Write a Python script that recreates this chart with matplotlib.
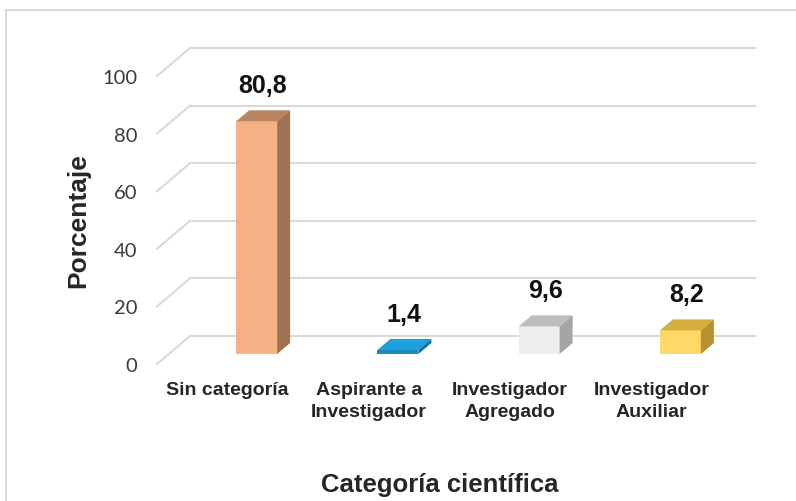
import numpy as np
import matplotlib
matplotlib.use("Agg")
import matplotlib.pyplot as plt
from matplotlib.patches import Polygon, Rectangle
from matplotlib.lines import Line2D
from matplotlib.transforms import offset_copy, IdentityTransform

# data
categories = ["Sin categoría", "Aspirante a\nInvestigador",
              "Investigador\nAgregado", "Investigador\nAuxiliar"]
values = [80.8, 1.4, 9.6, 8.2]
yticks = [0, 20, 40, 60, 80, 100]

# colours: front, top, side
front_colors = ["#F4B183", "#1A8CC4", "#EDEDED", "#FFD966"]
top_colors = ["#B9855F", "#1FA0DC", "#BDBDBD", "#D4AF3E"]
side_colors = ["#9E7152", "#11709F", "#A5A5A5", "#B39232"]

# pseudo 3d geometry, in pixels (x right, y up)
WALL = (33, 28)     # back wall offset from front edge
BAR = (29, 10)      # bar front plane offset
DEPTH = (13, 11)    # bar depth
BAR_W = 0.29
GRID = "#D9D9D9"

fig = plt.figure(figsize=(7.96, 5.02), dpi=100)
W, H = 796, 502

# outer frame of the chart area
fig.patches.append(Rectangle((6 / W, -0.1), 1.2, 1 - 11 / H + 0.1,
                             transform=fig.transFigure, fill=False,
                             edgecolor=GRID, lw=1.5))

ax = fig.add_axes([157 / W, 1 - 365 / H, 565 / W, 288 / H])
ax.set_xlim(-0.5, 3.5)
ax.set_ylim(0, 100)
ax.set_autoscale_on(False)
ax.patch.set_visible(False)
for s in ax.spines.values():
    s.set_visible(False)


def shifted(dx, dy):
    return offset_copy(ax.transData, fig=fig, x=dx, y=dy, units="dots")


# back wall gridlines + diagonal floor/side lines
wall_tr = shifted(*WALL)
for v in yticks:
    ax.plot([-0.5, 3.5], [v, v], transform=wall_tr, color=GRID, lw=1.5,
            clip_on=False, zorder=0)
    p0 = ax.transData.transform((-0.5, v))
    p1 = p0 + np.array(WALL)
    ax.add_line(Line2D([p0[0], p1[0]], [p0[1], p1[1]],
                       transform=IdentityTransform(), color=GRID, lw=1.5,
                       clip_on=False, zorder=0))

# bars
bar_tr = shifted(*BAR)
d = np.array(DEPTH)
for i, v in enumerate(values):
    ax.bar(i, v, width=BAR_W, transform=bar_tr, color=front_colors[i],
           clip_on=False, zorder=3)
    fl = bar_tr.transform((i - BAR_W / 2, v))
    fr = bar_tr.transform((i + BAR_W / 2, v))
    br = bar_tr.transform((i + BAR_W / 2, 0))
    ax.add_patch(Polygon([fl, fr, fr + d, fl + d], closed=True,
                         transform=IdentityTransform(), facecolor=top_colors[i],
                         edgecolor="none", clip_on=False, zorder=3))
    ax.add_patch(Polygon([br, fr, fr + d, br + d], closed=True,
                         transform=IdentityTransform(), facecolor=side_colors[i],
                         edgecolor="none", clip_on=False, zorder=3))
    ax.text(i, v, f"{v:.1f}".replace(".", ","),
            transform=shifted(BAR[0] + 6, BAR[1] + DEPTH[1] + 25),
            ha="center", va="center", fontsize=18, fontweight="bold",
            family="Liberation Sans", color="#111111", zorder=4)

# axes text
ax.set_yticks(yticks)
ax.tick_params(axis="y", length=0, pad=14, labelsize=14.5, labelcolor="#3A3A3A")
for t in ax.get_yticklabels():
    t.set_family("Lato")

ax.set_xticks(range(len(categories)))
ax.set_xticklabels(categories, fontsize=14, fontweight="bold",
                   family="Liberation Sans", color="#262626", linespacing=1.4)
ax.tick_params(axis="x", length=0, pad=12)

ax.set_ylabel("Porcentaje", fontsize=19, fontweight="bold",
              family="Liberation Sans", color="#262626", va="center")
ax.yaxis.set_label_coords((78 - 157) / 565, 0.5)
ax.set_xlabel("Categoría científica", fontsize=18.5, fontweight="bold",
              family="Liberation Sans", color="#262626", va="center")
ax.xaxis.set_label_coords(0.5, (365 - 485) / 288)

fig.savefig("out.png", dpi=100, facecolor="white")
